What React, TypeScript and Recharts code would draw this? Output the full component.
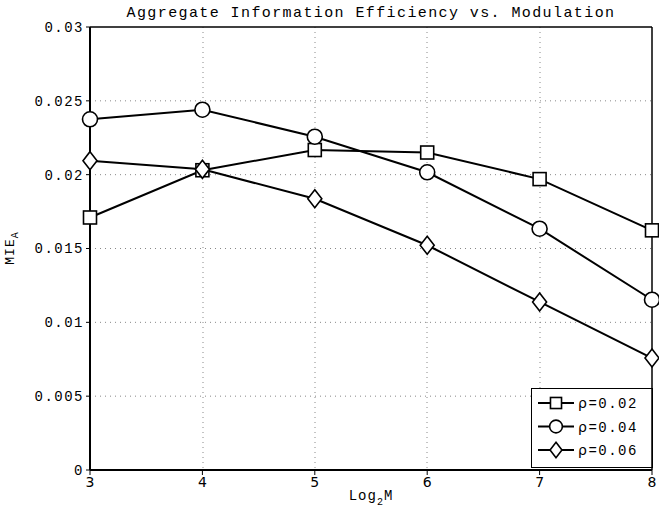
import React from "react";
import {
  LineChart,
  Line,
  XAxis,
  YAxis,
  CartesianGrid,
  ReferenceLine,
} from "recharts";

const log2M = [3, 4, 5, 6, 7, 8];
const rho002 = [0.0171, 0.0203, 0.02167, 0.0215, 0.0197, 0.01623];
const rho004 = [0.02375, 0.0244, 0.02257, 0.02016, 0.01634, 0.01153];
const rho006 = [0.02095, 0.02036, 0.01837, 0.01522, 0.01138, 0.00758];
const yTicks = [0, 0.005, 0.01, 0.015, 0.02, 0.025, 0.03];
const yTickLabels = ["0", "0.005", "0.01", "0.015", "0.02", "0.025", "0.03"];
const seriesNames = ["ρ=0.02", "ρ=0.04", "ρ=0.06"];

const data = log2M.map((m, i) => ({
  m,
  a: rho002[i],
  b: rho004[i],
  c: rho006[i],
}));

const mono = "'Liberation Mono', 'DejaVu Sans Mono', monospace";

type Shape = "square" | "circle" | "diamond";

function Marker({ cx, cy, shape, k = 1 }: { cx: number; cy: number; shape: Shape; k?: number }) {
  const style = { fill: "#fff", stroke: "#000", strokeWidth: 1.6 };
  if (shape === "square")
    return <rect x={cx - 6.5 * k} y={cy - 6.5 * k} width={13 * k} height={13 * k} {...style} />;
  if (shape === "circle") return <circle cx={cx} cy={cy} r={7.5 * k} {...style} />;
  return (
    <polygon
      points={`${cx},${cy - 9 * k} ${cx + 7 * k},${cy} ${cx},${cy + 9 * k} ${cx - 7 * k},${cy}`}
      {...style}
    />
  );
}

const makeDot = (shape: Shape) => (props: any) => (
  <Marker key={`${shape}-${props.index}`} cx={props.cx} cy={props.cy} shape={shape} />
);

const shapes: Shape[] = ["square", "circle", "diamond"];

// legend box drawn inside the plot, lower right
function LegendBox({ x, y }: { x: number; y: number }) {
  return (
    <g transform={`translate(${x},${y})`}>
      <rect x={0.5} y={0.5} width={121} height={79} fill="#fff" stroke="#000" strokeWidth={1} />
      {shapes.map((s, i) => {
        const ly = 15 + i * 23.5;
        return (
          <g key={s}>
            <line x1={7} x2={43} y1={ly} y2={ly} stroke="#000" strokeWidth={2} />
            <Marker cx={25} cy={ly} shape={s} k={0.85} />
            <text
              x={47}
              y={ly + 5}
              fontFamily={mono}
              fontSize={14}
              letterSpacing={1.5}
              fill="#000"
            >
              <tspan fontFamily="'DejaVu Sans', sans-serif">ρ</tspan>
              {seriesNames[i].slice(1)}
            </text>
          </g>
        );
      })}
    </g>
  );
}

export default function App() {
  return (
    <div style={{ position: "absolute", left: 0, top: 0, width: 659, height: 508, background: "#fff" }}>
      <LineChart
        width={659}
        height={508}
        data={data}
        margin={{ top: 27, right: 7, bottom: 0, left: 0 }}
      >
        <text
          x={371}
          y={17}
          textAnchor="middle"
          fontFamily={mono}
          fontSize={15}
          letterSpacing={1.4}
          fill="#000"
        >
          Aggregate Information Efficiency vs. Modulation
        </text>
        <text
          x={371}
          y={500}
          textAnchor="middle"
          fontFamily={mono}
          fontSize={14}
          letterSpacing={1}
          fill="#000"
        >
          Log<tspan fontSize={10} dy={5}>2</tspan>
          <tspan dy={-5}>M</tspan>
        </text>
        <text
          transform="translate(14,248) rotate(-90)"
          textAnchor="middle"
          fontFamily={mono}
          fontSize={13}
          letterSpacing={1}
          fill="#000"
        >
          MIE<tspan fontSize={10} dy={4}>A</tspan>
        </text>
        <CartesianGrid
          stroke="#888"
          strokeDasharray="1 4"
          verticalPoints={[203, 315, 427, 540]}
          horizontalPoints={yTicks.slice(1, 6).map((v) => 470 - (v / 0.03) * 443)}
        />
        <XAxis
          dataKey="m"
          type="number"
          domain={[3, 8]}
          ticks={log2M}
          height={38}
          stroke="#000"
          strokeWidth={2}
          tickSize={5}
          tickLine={{ stroke: "#000", strokeWidth: 1 }}
          tick={{ fill: "#000", fontSize: 14, fontFamily: "'DejaVu Sans', sans-serif" }}
          tickMargin={2}
        />
        <YAxis
          type="number"
          domain={[0, 0.03]}
          ticks={yTicks}
          width={90}
          interval={0}
          stroke="#000"
          strokeWidth={2}
          tickSize={4}
          tickLine={{ stroke: "#000", strokeWidth: 1 }}
          tickFormatter={(v: number) => yTickLabels[yTicks.indexOf(v)] ?? String(v)}
          tick={{ fill: "#000", fontSize: 14, fontFamily: mono, letterSpacing: 1.5 }}
          tickMargin={2}
        />
        <ReferenceLine y={0.03} stroke="#000" strokeWidth={1.5} />
        <ReferenceLine x={8} stroke="#000" strokeWidth={1.5} />
        {(["a", "b", "c"] as const).map((k, i) => (
          <Line
            key={k}
            dataKey={k}
            name={seriesNames[i]}
            stroke="#000"
            strokeWidth={2}
            dot={makeDot(shapes[i])}
            activeDot={false}
            isAnimationActive={false}
          />
        ))}
        <LegendBox x={531} y={388} />
      </LineChart>
    </div>
  );
}
